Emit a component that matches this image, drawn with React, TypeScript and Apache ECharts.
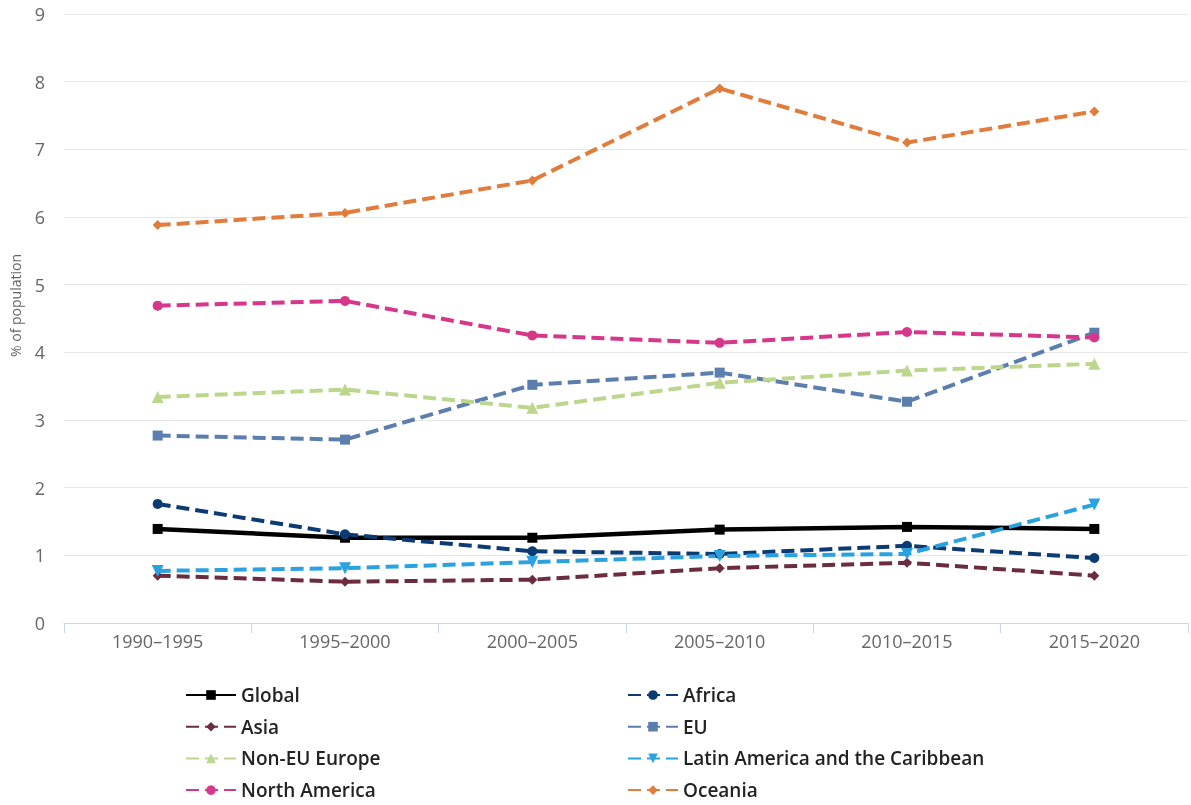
import React, { useEffect, useRef } from "react";
import * as echarts from "echarts";

const categories = ["1990–1995", "1995–2000", "2000–2005", "2005–2010", "2010–2015", "2015–2020"];
const yTicks = [0, 9, 1];

const globalVals = [1.39, 1.26, 1.26, 1.38, 1.42, 1.39];
const africaVals = [1.76, 1.31, 1.06, 1.02, 1.14, 0.96];
const asiaVals = [0.70, 0.61, 0.64, 0.81, 0.89, 0.70];
const euVals = [2.77, 2.71, 3.52, 3.70, 3.27, 4.29];
const nonEuVals = [3.34, 3.45, 3.18, 3.55, 3.73, 3.83];
const latamVals = [0.77, 0.81, 0.90, 0.99, 1.02, 1.75];
const northAmVals = [4.69, 4.76, 4.25, 4.14, 4.30, 4.22];
const oceaniaVals = [5.88, 6.06, 6.54, 7.90, 7.10, 7.56];

const seriesDefs = [
  { name: "Global", data: globalVals, color: "#000000", symbol: "rect", dashed: false, rotate: 0 },
  { name: "Africa", data: africaVals, color: "#0c3a72", symbol: "circle", dashed: true, rotate: 0 },
  { name: "Asia", data: asiaVals, color: "#6b2c3e", symbol: "diamond", dashed: true, rotate: 0 },
  { name: "EU", data: euVals, color: "#5b7eae", symbol: "rect", dashed: true, rotate: 0 },
  { name: "Non-EU Europe", data: nonEuVals, color: "#bdd68d", symbol: "triangle", dashed: true, rotate: 0 },
  { name: "Latin America and the Caribbean", data: latamVals, color: "#2ba2e0", symbol: "triangle", dashed: true, rotate: 180 },
  { name: "North America", data: northAmVals, color: "#d6378a", symbol: "circle", dashed: true, rotate: 0 },
  { name: "Oceania", data: oceaniaVals, color: "#e07d3c", symbol: "diamond", dashed: true, rotate: 0 },
];

const leftLegend = ["Global", "Asia", "Non-EU Europe", "North America"];
const rightLegend = ["Africa", "EU", "Latin America and the Caribbean", "Oceania"];

export default function App() {
  const ref = useRef<HTMLDivElement>(null);
  useEffect(() => {
    if (!ref.current) return;
    const chart = echarts.init(ref.current, undefined, { renderer: "svg" });
    const legendText = {
      fontFamily: "Open Sans",
      fontSize: 19,
      fontWeight: 600,
      color: "#222",
      lineHeight: 20,
    };
    const legendCommon = {
      orient: "vertical",
      top: 680,
      height: 124,
      padding: [5, 5, 0, 5],
      itemWidth: 50,
      itemHeight: 12,
      itemGap: 11.7,
      textStyle: legendText,
    };
    chart.setOption({
      animation: false,
      grid: { left: 64, right: 3, top: 14, bottom: 182, containLabel: false },
      xAxis: {
        type: "category",
        data: categories,
        boundaryGap: true,
        axisLine: { lineStyle: { color: "#ccd6eb", width: 1 } },
        axisTick: { show: true, length: 10, lineStyle: { color: "#ccd6eb" } },
        axisLabel: { color: "#666", fontSize: 18, fontFamily: "Open Sans", margin: 9 },
        splitLine: { show: false },
      },
      yAxis: {
        type: "value",
        min: yTicks[0],
        max: yTicks[1],
        interval: yTicks[2],
        name: "% of population",
        nameLocation: "middle",
        nameGap: 42,
        nameTextStyle: { color: "#666", fontSize: 14, fontFamily: "Open Sans", padding: [0, 0, 0, 26] },
        axisLine: { show: false },
        axisTick: { show: false },
        axisLabel: { color: "#666", fontSize: 18, fontFamily: "Open Sans", margin: 19 },
        splitLine: { lineStyle: { color: "#e6e6e6", width: 1 } },
      },
      legend: [
        { ...legendCommon, data: leftLegend, left: 180 },
        { ...legendCommon, data: rightLegend, left: 622 },
      ],
      series: seriesDefs.map((s) => ({
        name: s.name,
        type: "line",
        data: s.data,
        symbol: s.symbol,
        symbolRotate: s.rotate,
        symbolSize: s.symbol === "diamond" ? 10 : s.symbol === "triangle" ? 12 : 10,
        showAllSymbol: true,
        itemStyle: { color: s.color },
        lineStyle: {
          color: s.color,
          width: s.dashed ? 4 : 4.5,
          type: s.dashed ? [13, 6] : "solid",
        },
      })),
    });
    return () => chart.dispose();
  }, []);
  return (
    <div
      ref={ref}
      style={{ position: "fixed", left: 0, top: 0, width: 1191, height: 805 }}
    />
  );
}
